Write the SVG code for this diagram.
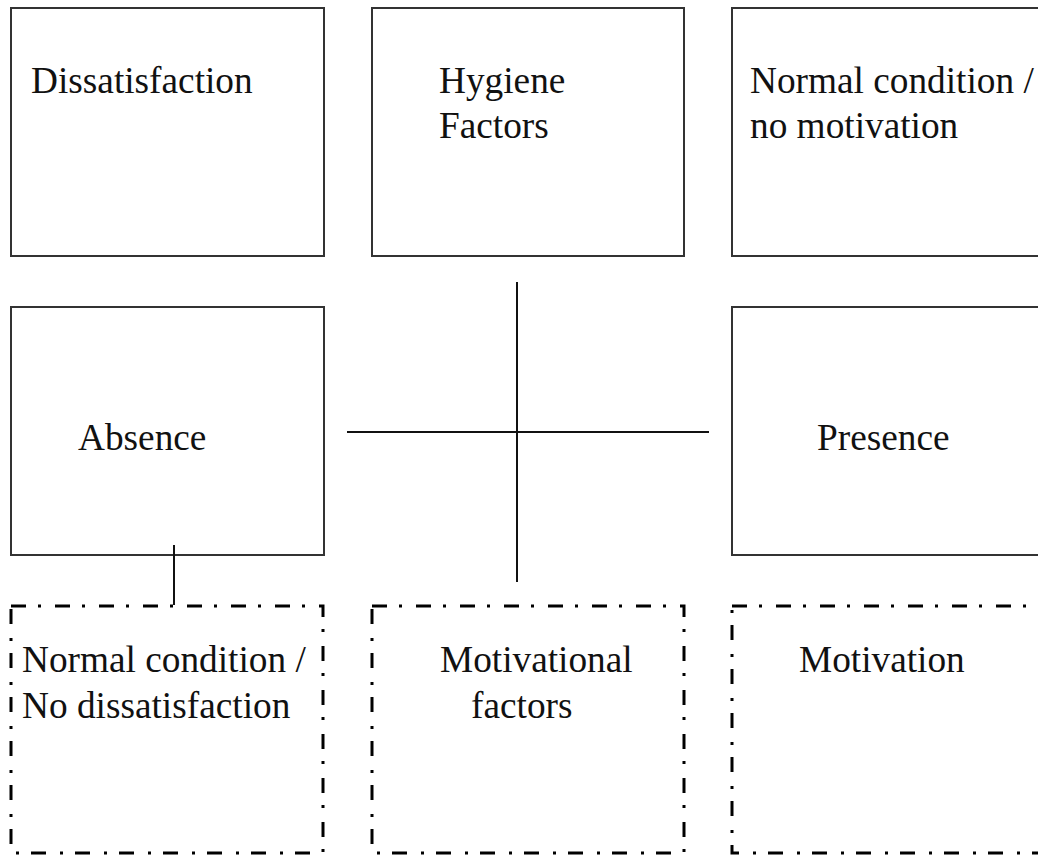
<svg xmlns="http://www.w3.org/2000/svg" width="1038" height="856" viewBox="0 0 1038 856">
<style>
.box{fill:#fff;stroke:#333;stroke-width:2}
.dbox{fill:#fff;stroke:#000;stroke-width:3;stroke-dasharray:15 12 3 14}
.ln{stroke:#111;stroke-width:2;fill:none}
text{font-family:"Liberation Serif","Times New Roman",serif;font-size:37.3px;fill:#111}
</style>
<rect width="1038" height="856" fill="#fff"/>
<g id="dissatisfaction"><rect class="box" x="11" y="8" width="313" height="248"/><text x="31" y="93">Dissatisfaction</text></g>
<g id="hygiene"><rect class="box" x="372" y="8" width="312" height="248"/><text x="439" y="93">Hygiene</text><text x="439" y="138">Factors</text></g>
<g id="normal-no-motivation"><rect class="box" x="732" y="8" width="320" height="248"/><text x="750" y="93">Normal condition /</text><text x="750" y="138">no motivation</text></g>
<g id="absence"><rect class="box" x="11" y="307" width="313" height="248"/><text x="78" y="450">Absence</text></g>
<g id="presence"><rect class="box" x="732" y="307" width="320" height="248"/><text x="817" y="450">Presence</text></g>
<g id="normal-no-dissatisfaction"><rect class="dbox" x="11" y="606" width="312" height="247"/><text x="22" y="672">Normal condition /</text><text x="22" y="718">No dissatisfaction</text></g>
<g id="motivational-factors"><rect class="dbox" x="372" y="606" width="312" height="247"/><text x="440" y="672">Motivational</text><text x="471" y="718">factors</text></g>
<g id="motivation"><rect class="dbox" x="732" y="606" width="320" height="247"/><text x="799" y="672">Motivation</text></g>
<g id="connectors">
<line class="ln" x1="517" y1="282" x2="517" y2="582"/>
<line class="ln" x1="347" y1="432" x2="709" y2="432"/>
<line class="ln" x1="174" y1="545" x2="174" y2="605"/>
</g>
</svg>
